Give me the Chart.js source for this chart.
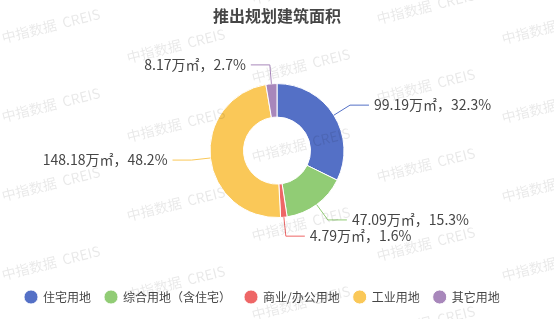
<!DOCTYPE html>
<html>
<head>
<meta charset="utf-8">
<script src="https://cdn.jsdelivr.net/npm/chart.js@4.4.1/dist/chart.umd.min.js"></script>
<style>
  html, body { margin: 0; padding: 0; background: #fff; }
  #areaChart { display: block; }
</style>
</head>
<body>
<canvas id="areaChart" width="554" height="319"></canvas>
<script>
/*--------------------------------------------------------------------
推出规划建筑面积 - doughnut (Chart.js v4)
--------------------------------------------------------------------*/

const categories = ["住宅用地", "综合用地（含住宅）", "商业/办公用地", "工业用地", "其它用地"];
const areaValues = [99.19, 47.09, 4.79, 148.18, 8.17];   // 万㎡
const sliceColors = ["#5470c6", "#91cc75", "#ee6666", "#fac858", "#a887bb"];

const FONT = '"Noto Sans CJK SC", "Noto Sans", sans-serif';
const WATERMARK = "中指数据  CREIS";

const total = areaValues.reduce((a, b) => a + b, 0);

/* ----------------------------------------------------------
   Outside labels with two-part leader lines
---------------------------------------------------------- */
const sliceLabels = {
    id: "sliceLabels",
    afterDatasetsDraw(chart) {
        const ctx = chart.ctx;
        const meta = chart.getDatasetMeta(0);
        const len1 = 19, len2 = 19, gap = 5;

        ctx.save();
        ctx.font = "14px " + FONT;
        ctx.textBaseline = "middle";
        ctx.lineWidth = 1;

        meta.data.forEach((arc, i) => {
            const p = arc.getProps(["x", "y", "startAngle", "endAngle", "outerRadius"], true);
            const mid = (p.startAngle + p.endAngle) / 2;
            const cos = Math.cos(mid), sin = Math.sin(mid);
            const x0 = p.x + cos * p.outerRadius;
            const y0 = p.y + sin * p.outerRadius;
            const x1 = p.x + cos * (p.outerRadius + len1);
            const y1 = p.y + sin * (p.outerRadius + len1);
            const right = x1 >= p.x;
            const x2 = x1 + (right ? len2 : -len2);

            ctx.strokeStyle = sliceColors[i];
            ctx.beginPath();
            ctx.moveTo(x0, y0);
            ctx.lineTo(x1, y1);
            ctx.lineTo(x2, y1);
            ctx.stroke();

            const pct = (areaValues[i] / total * 100).toFixed(1);
            ctx.fillStyle = "#464646";
            ctx.textAlign = right ? "left" : "right";
            ctx.fillText(areaValues[i] + "万㎡，" + pct + "%", x2 + (right ? gap : -gap), y1);
        });
        ctx.restore();
    }
};

/* ----------------------------------------------------------
   Tiled watermark
---------------------------------------------------------- */
const watermark = {
    id: "watermark",
    afterDraw(chart) {
        const ctx = chart.ctx;
        ctx.save();
        ctx.font = "14px " + FONT;
        ctx.fillStyle = "rgba(0, 0, 0, 0.09)";
        ctx.textBaseline = "middle";
        ctx.textAlign = "left";
        for (let c = 0; c < 5; c++) {
            for (let k = -1; k < 5; k++) {
                const x = 2 + c * 125;
                const y = 38 + c * 20 + k * 79;
                ctx.save();
                ctx.translate(x, y);
                ctx.rotate(-14 * Math.PI / 180);
                ctx.fillText(WATERMARK, 0, 0);
                ctx.restore();
            }
        }
        ctx.restore();
    }
};

const ctx = document.getElementById("areaChart").getContext("2d");

new Chart(ctx, {
    type: "doughnut",
    data: {
        labels: categories,
        datasets: [{
            data: areaValues,
            backgroundColor: sliceColors,
            borderColor: "#ffffff",
            borderWidth: 1,
            radius: 67,
            cutout: "50%"
        }]
    },
    options: {
        responsive: false,
        animation: false,
        devicePixelRatio: 1,
        layout: {padding: {top: 0, left: 11, right: 11, bottom: 6}},
        plugins: {
            title: {
                display: true,
                text: "推出规划建筑面积",
                color: "#464646",
                font: {family: FONT, size: 16, weight: "bold", lineHeight: 1.2},
                padding: {top: 6, bottom: -1}
            },
            legend: {
                position: "bottom",
                align: "start",
                labels: {
                    usePointStyle: true,
                    pointStyle: "circle",
                    boxWidth: 12,
                    boxHeight: 10,
                    padding: 14,
                    color: "#464646",
                    font: {family: FONT, size: 12}
                }
            },
            tooltip: {enabled: false}
        }
    },
    plugins: [sliceLabels, watermark]
});
</script>
</body>
</html>
